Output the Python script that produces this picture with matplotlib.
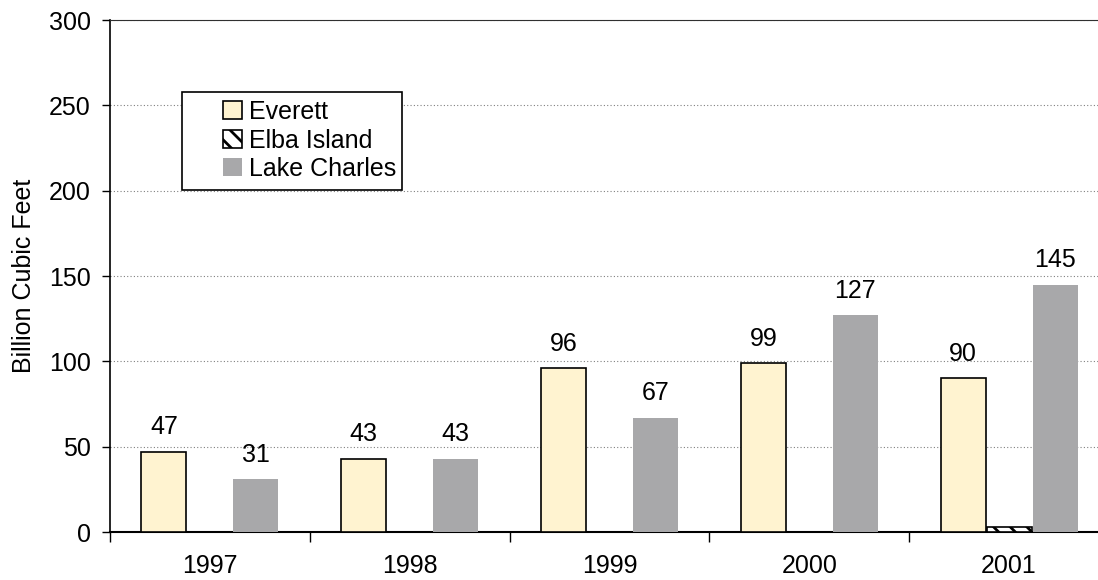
import numpy as np
import matplotlib.pyplot as plt
from matplotlib.patches import Rectangle, Patch

plt.rcParams['font.family'] = ['Liberation Sans', 'DejaVu Sans']
plt.rcParams['hatch.linewidth'] = 2.0

# data
years = ['1997', '1998', '1999', '2000', '2001']
everett = [47, 43, 96, 99, 90]
elba = [0, 0, 0, 0, 3]
lake_charles = [31, 43, 67, 127, 145]

fs = 18
fig = plt.figure(figsize=(10.98, 5.8), dpi=100)
# axes runs slightly past the right edge of the picture, like the original
ax = fig.add_axes([110/1098, 48/580, 999/1098, 512/580])

x = np.arange(len(years))
w = 0.225
off = 0.23

ax.bar(x - off, everett, w, color='#FFF3D0', edgecolor='black', linewidth=1.2, zorder=3)
ax.bar(x, elba, w, color='white', edgecolor='black', hatch='\\\\', linewidth=1.2, zorder=3)
ax.bar(x + off, lake_charles, w, color='#A8A8AA', edgecolor='none', zorder=3)

# value labels (Elba Island left unlabelled)
for xi, v in zip(x, everett):
    ax.annotate(str(v), (xi - off, v), xytext=(0, 9), textcoords='offset points',
                ha='center', va='bottom', fontsize=fs)
for xi, v in zip(x, lake_charles):
    ax.annotate(str(v), (xi + off, v), xytext=(0, 9), textcoords='offset points',
                ha='center', va='bottom', fontsize=fs)

ax.set_xlim(-0.5, 4.5)
ax.set_ylim(0, 300)
ax.set_yticks(np.arange(0, 301, 50))
ax.yaxis.grid(True, linestyle=(0, (1, 2)), color='#808080', linewidth=0.8, zorder=0)
ax.tick_params(axis='y', direction='out', length=6, width=1, pad=8, labelsize=fs)

# ticks between categories, labels centred under groups
ax.set_xticks(np.arange(-0.5, 5, 1))
ax.set_xticklabels([])
ax.set_xticks(x, minor=True)
ax.set_xticklabels(years, minor=True)
ax.tick_params(axis='x', which='major', direction='out', length=7, width=1)
ax.tick_params(axis='x', which='minor', length=0, pad=16, labelsize=fs)

ax.spines['right'].set_visible(False)
ax.spines['top'].set_linestyle((0, (1, 1)))
ax.spines['top'].set_color('#303030')
ax.spines['left'].set_linewidth(1.2)
ax.spines['bottom'].set_linewidth(1.5)

ax.set_ylabel('Billion Cubic Feet', fontsize=fs, labelpad=9)

# legend box drawn by hand, entries placed inside
ax.add_patch(Rectangle((72/999, 342/512), 220/999, 98/512, transform=ax.transAxes,
                       facecolor='white', edgecolor='black', linewidth=1.2, zorder=4))
handles = [Patch(facecolor='#FFF3D0', edgecolor='black', linewidth=1.2),
           Patch(facecolor='white', edgecolor='black', hatch='\\\\', linewidth=1.2),
           Patch(facecolor='#A8A8AA', edgecolor='none')]
leg = ax.legend(handles, ['Everett', 'Elba Island', 'Lake Charles'],
                loc='upper left', bbox_to_anchor=(113/999, 432/512),
                frameon=False, fontsize=fs, borderpad=0, borderaxespad=0,
                handlelength=0.75, handleheight=0.75, handletextpad=0.3,
                labelspacing=0.18)
leg.set_zorder(5)

fig.savefig('out.png', dpi=100)
